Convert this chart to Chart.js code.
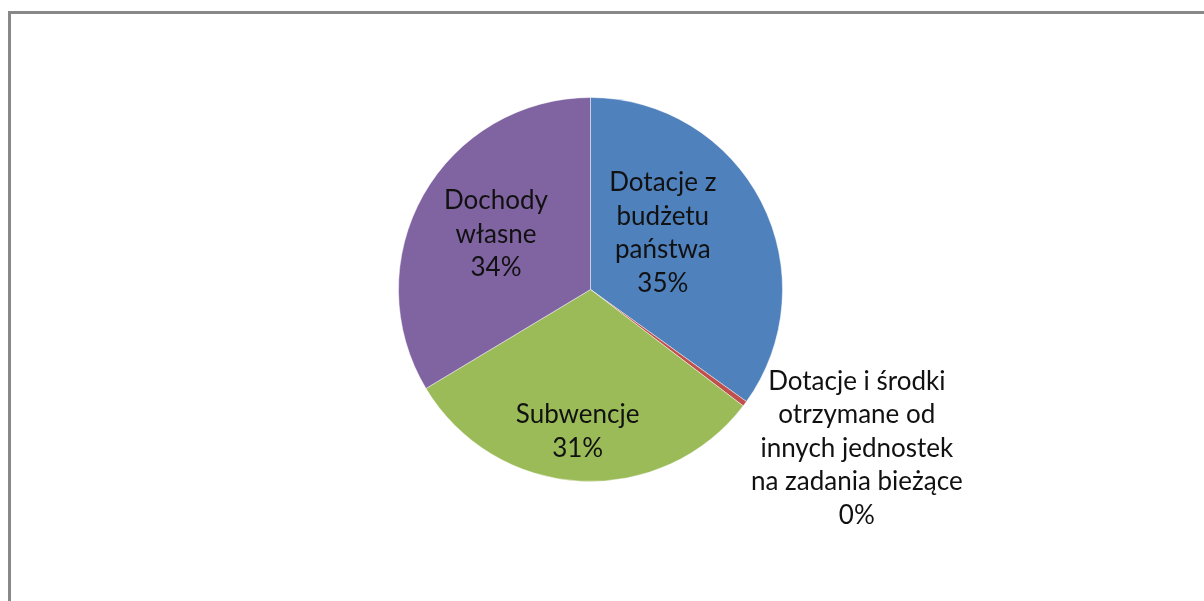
<!DOCTYPE html>
<html>
<head>
<meta charset="utf-8">
<script src="https://cdn.jsdelivr.net/npm/chart.js@4/dist/chart.umd.min.js"></script>
<style>
  html, body { margin: 0; padding: 0; background: #fff; overflow: hidden; }
  #wrap { position: relative; width: 1204px; height: 601px; }
</style>
</head>
<body>
<div id="wrap"><canvas id="budzet"></canvas></div>
<script>
// categories (label lines) and shares in percent, clockwise from 12 o'clock
var categories = [
  ['Dotacje z', 'budżetu', 'państwa'],
  ['Dotacje i środki', 'otrzymane od', 'innych jednostek', 'na zadania bieżące'],
  ['Subwencje'],
  ['Dochody', 'własne']
];
var shares = [34.9, 0.45, 31.0, 33.6];
var percentLabels = ['35%', '0%', '31%', '34%'];

var sliceColors = ['#4F81BD', '#C0504D', '#9BBB59', '#8064A2'];

// where each label sits: fraction of radius and angle shift (deg) from the slice middle
var labelPlacement = [
  { r: 0.477, da: -10.7 },
  { r: 1.615, da: -5.7 },
  { r: 0.744, da: 2.0 },
  { r: 0.57, da: 0.8 }
];

var frame = {
  id: 'frame',
  beforeDraw: function (chart) {
    var ctx = chart.ctx;
    ctx.save();
    ctx.strokeStyle = '#888888';
    ctx.lineWidth = 3;
    ctx.beginPath();
    ctx.moveTo(9.5, chart.height + 5);
    ctx.lineTo(9.5, 12.5);
    ctx.lineTo(chart.width + 5, 12.5);
    ctx.stroke();
    ctx.restore();
  }
};

var sliceLabels = {
  id: 'sliceLabels',
  afterDatasetsDraw: function (chart) {
    var ctx = chart.ctx;
    var meta = chart.getDatasetMeta(0);
    var lineHeight = 33.5;
    ctx.save();
    ctx.font = '26px Lato, "Open Sans", sans-serif';
    ctx.fillStyle = '#111111';
    ctx.textAlign = 'center';
    ctx.textBaseline = 'middle';
    meta.data.forEach(function (arc, i) {
      var p = arc.getProps(['x', 'y', 'startAngle', 'endAngle', 'outerRadius'], true);
      var mid = (p.startAngle + p.endAngle) / 2 + labelPlacement[i].da * Math.PI / 180;
      var dist = p.outerRadius * labelPlacement[i].r;
      var cx = p.x + Math.cos(mid) * dist;
      var cy = p.y + Math.sin(mid) * dist;
      var lines = categories[i].concat([percentLabels[i]]);
      var top = cy - (lines.length - 1) * lineHeight / 2;
      lines.forEach(function (t, k) {
        ctx.fillText(t, cx, top + k * lineHeight);
      });
    });
    ctx.restore();
  }
};

var ctx = document.getElementById('budzet');
var myChart = new Chart(ctx, {
  type: 'pie',
  data: {
    labels: categories.map(function (c) { return c.join(' '); }),
    datasets: [{
      data: shares,
      backgroundColor: sliceColors,
      borderColor: 'rgba(255,255,255,0.45)',
      borderWidth: 1
    }]
  },
  options: {
    responsive: true,
    maintainAspectRatio: false,
    animation: false,
    layout: { padding: { top: 97, bottom: 119, left: 0, right: 23 } },
    plugins: {
      legend: { display: false },
      tooltip: { enabled: false }
    }
  },
  plugins: [frame, sliceLabels]
});
</script>
</body>
</html>
